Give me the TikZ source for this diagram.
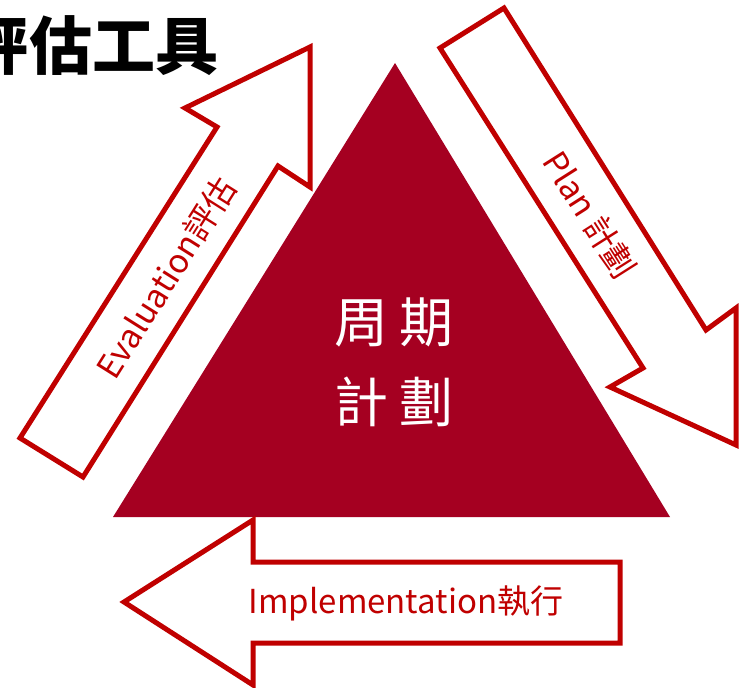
\documentclass[tikz,border=0pt]{standalone}
\usepackage{fontspec}
\newfontfamily\cjk{Noto Sans CJK TC}
\definecolor{tri}{RGB}{165,0,33}
\definecolor{arr}{RGB}{192,0,0}
\begin{document}
\begin{tikzpicture}[x=1pt,y=-1pt,
  arrowshape/.style={draw=arr, line width=5pt, fill=white, line join=miter},
  lbl/.style={text=arr, font=\cjk\fontsize{33}{36}\selectfont, inner sep=0pt},
  ctext/.style={text=white, font=\cjk\fontsize{54}{80}\selectfont, inner sep=0pt, align=center}]
\useasboundingbox (0,0) rectangle (743,687);
% central triangle
\fill[tri] (395,63) -- (670,517) -- (113,517) -- cycle;
\node[ctext] (center) at (394,362) {周\hspace{12pt}期\\計\hspace{12pt}劃};
% plan arrow
\draw[arrowshape] (440,48) -- (504,8) -- (706,330) -- (736,308) -- (736,445) -- (610,387) -- (643,368) -- cycle;
\node[lbl, rotate=-57.6] (plan) at (590,215) {Plan 計劃};
% evaluation arrow
\draw[arrowshape] (20,438) -- (83,477) -- (278,166) -- (310,187) -- (310,47) -- (185,108) -- (217,127) -- cycle;
\node[lbl, rotate=57.8] (eval) at (166,278) {Evaluation評估};
% implementation arrow
\draw[arrowshape] (124,602) -- (253,520) -- (253,562) -- (620,562) -- (620,643) -- (253,643) -- (253,685) -- cycle;
\node[lbl] (impl) at (406,603) {Implementation執行};
% title
\node[font=\cjk\bfseries\fontsize{63}{66}\selectfont, inner sep=0pt] (title) at (92,45) {評估工具};
\end{tikzpicture}
\end{document}
